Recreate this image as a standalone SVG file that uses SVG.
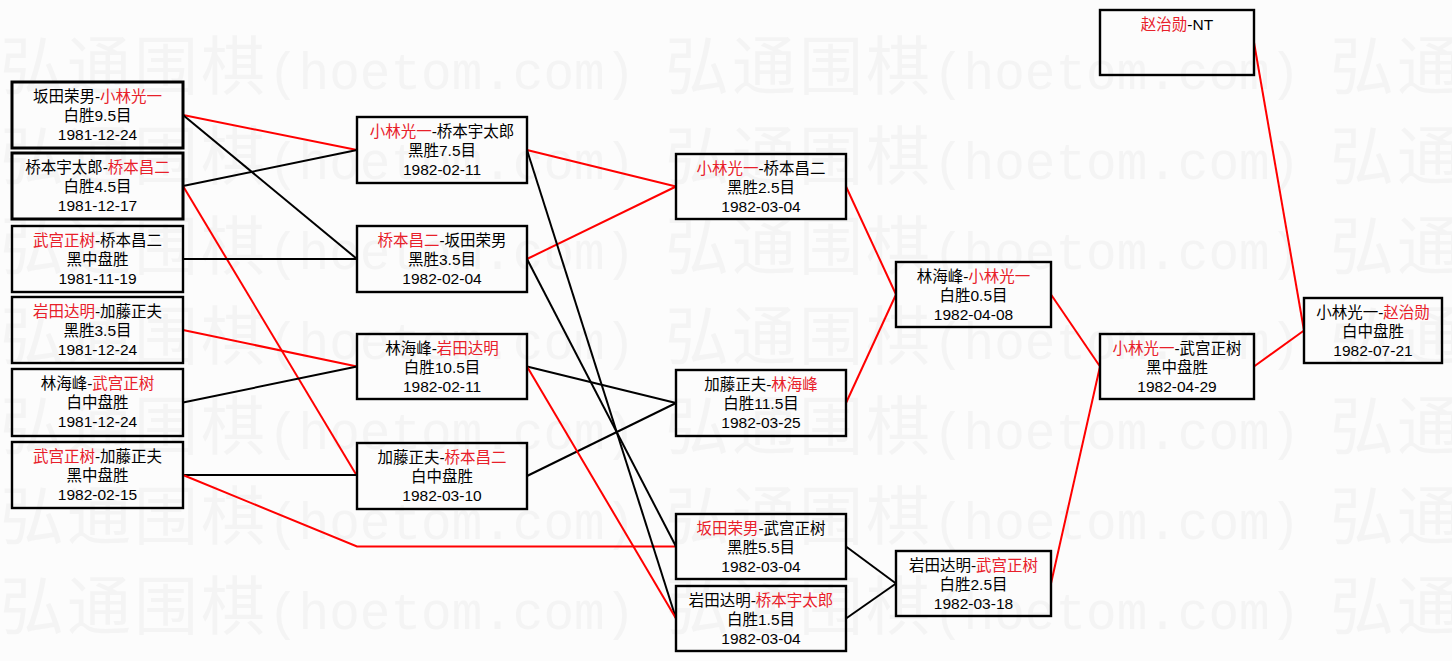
<svg xmlns="http://www.w3.org/2000/svg" xmlns:xlink="http://www.w3.org/1999/xlink" width="1452" height="661" viewBox="0 0 1452 661">
<style>
.bg{fill:#fcfcfc}
.wm{fill:#f4f4f4;font-family:"Noto Sans CJK SC","Noto Sans CJK JP",sans-serif;font-size:64px;letter-spacing:3px}
.wma{font-family:"Liberation Mono",monospace;font-size:51px;letter-spacing:0}
.box{fill:none;stroke:#000;stroke-width:2.4}
.thick{stroke-width:3}
.t{font-family:"Liberation Sans","Noto Sans CJK SC","Noto Sans CJK JP",sans-serif;font-size:15.5px;fill:#000;text-anchor:middle}
.r{fill:#e8202a}
.cr{stroke:#f00;stroke-width:2;fill:none}
.cb{stroke:#000;stroke-width:2;fill:none}
</style>
<defs>
<text id="wm" class="wm"><tspan x="0" y="0">弘通围棋</tspan><tspan class="wma" x="268" y="0">(hoetom.com)</tspan></text>
</defs>
<rect class="bg" x="0" y="0" width="1452" height="661"/>
<g id="watermark">
<use xlink:href="#wm" x="0" y="89"/><use xlink:href="#wm" x="665" y="89"/><use xlink:href="#wm" x="1330" y="89"/>
<use xlink:href="#wm" x="0" y="179"/><use xlink:href="#wm" x="665" y="179"/><use xlink:href="#wm" x="1330" y="179"/>
<use xlink:href="#wm" x="0" y="269"/><use xlink:href="#wm" x="665" y="269"/><use xlink:href="#wm" x="1330" y="269"/>
<use xlink:href="#wm" x="0" y="359"/><use xlink:href="#wm" x="665" y="359"/><use xlink:href="#wm" x="1330" y="359"/>
<use xlink:href="#wm" x="0" y="449"/><use xlink:href="#wm" x="665" y="449"/><use xlink:href="#wm" x="1330" y="449"/>
<use xlink:href="#wm" x="0" y="539"/><use xlink:href="#wm" x="665" y="539"/><use xlink:href="#wm" x="1330" y="539"/>
<use xlink:href="#wm" x="0" y="629"/><use xlink:href="#wm" x="665" y="629"/><use xlink:href="#wm" x="1330" y="629"/>
</g>
<g id="connectors">
<line class="cr" x1="183" y1="115" x2="357" y2="150"/>
<line class="cb" x1="183" y1="115" x2="357" y2="259"/>
<line class="cb" x1="183" y1="186" x2="357" y2="150"/>
<line class="cr" x1="183" y1="186" x2="357" y2="476"/>
<line class="cb" x1="183" y1="259" x2="357" y2="259"/>
<line class="cr" x1="183" y1="330" x2="357" y2="366.5"/>
<line class="cb" x1="183" y1="402.5" x2="357" y2="366.5"/>
<line class="cb" x1="183" y1="475" x2="357" y2="475"/>
<polyline class="cr" points="183,475 357,546.5 676,546.5"/>
<line class="cr" x1="527" y1="150" x2="676" y2="186.5"/>
<line class="cr" x1="527" y1="259" x2="676" y2="186.5"/>
<line class="cb" x1="527" y1="150" x2="676" y2="618.5"/>
<line class="cb" x1="527" y1="259" x2="676" y2="546.5"/>
<line class="cb" x1="527" y1="366.5" x2="676" y2="403"/>
<line class="cb" x1="527" y1="476" x2="676" y2="403"/>
<line class="cr" x1="527" y1="366.5" x2="676" y2="618.5"/>
<line class="cr" x1="846" y1="186.5" x2="896" y2="294.5"/>
<line class="cr" x1="846" y1="403" x2="896" y2="294.5"/>
<line class="cb" x1="846" y1="546.5" x2="896" y2="583.5"/>
<line class="cb" x1="846" y1="618.5" x2="896" y2="583.5"/>
<line class="cr" x1="1051" y1="294.5" x2="1100" y2="366.5"/>
<line class="cr" x1="1051" y1="583.5" x2="1100" y2="366.5"/>
<line class="cr" x1="1254" y1="366.5" x2="1304" y2="330.5"/>
<line class="cr" x1="1254" y1="42.5" x2="1304" y2="330.5"/>
</g>
<g id="n1"><rect class="box thick" x="12" y="82" width="171" height="66"/>
<text class="t" x="97.5" y="102">坂田荣男-<tspan class="r">小林光一</tspan></text>
<text class="t" x="97.5" y="121">白胜9.5目</text><text class="t" x="97.5" y="140">1981-12-24</text></g>
<g id="n2"><rect class="box thick" x="12" y="153" width="171" height="66"/>
<text class="t" x="97.5" y="173">桥本宇太郎-<tspan class="r">桥本昌二</tspan></text>
<text class="t" x="97.5" y="192">白胜4.5目</text><text class="t" x="97.5" y="211">1981-12-17</text></g>
<g id="n3"><rect class="box" x="12" y="226" width="171" height="66"/>
<text class="t" x="97.5" y="246"><tspan class="r">武宫正树</tspan>-桥本昌二</text>
<text class="t" x="97.5" y="265">黑中盘胜</text><text class="t" x="97.5" y="284">1981-11-19</text></g>
<g id="n4"><rect class="box" x="12" y="297" width="171" height="66"/>
<text class="t" x="97.5" y="317"><tspan class="r">岩田达明</tspan>-加藤正夫</text>
<text class="t" x="97.5" y="336">黑胜3.5目</text><text class="t" x="97.5" y="355">1981-12-24</text></g>
<g id="n5"><rect class="box" x="12" y="369" width="171" height="67"/>
<text class="t" x="97.5" y="389">林海峰-<tspan class="r">武宫正树</tspan></text>
<text class="t" x="97.5" y="408">白中盘胜</text><text class="t" x="97.5" y="427">1981-12-24</text></g>
<g id="n6"><rect class="box" x="12" y="442" width="171" height="66"/>
<text class="t" x="97.5" y="462"><tspan class="r">武宫正树</tspan>-加藤正夫</text>
<text class="t" x="97.5" y="481">黑中盘胜</text><text class="t" x="97.5" y="500">1982-02-15</text></g>
<g id="nA"><rect class="box" x="357" y="117" width="170" height="66"/>
<text class="t" x="442" y="137"><tspan class="r">小林光一</tspan>-桥本宇太郎</text>
<text class="t" x="442" y="156">黑胜7.5目</text><text class="t" x="442" y="175">1982-02-11</text></g>
<g id="nB"><rect class="box" x="357" y="226" width="170" height="66"/>
<text class="t" x="442" y="246"><tspan class="r">桥本昌二</tspan>-坂田荣男</text>
<text class="t" x="442" y="265">黑胜3.5目</text><text class="t" x="442" y="284">1982-02-04</text></g>
<g id="nC"><rect class="box" x="357" y="334" width="170" height="65"/>
<text class="t" x="442" y="354">林海峰-<tspan class="r">岩田达明</tspan></text>
<text class="t" x="442" y="373">白胜10.5目</text><text class="t" x="442" y="392">1982-02-11</text></g>
<g id="nD"><rect class="box" x="357" y="443" width="170" height="66"/>
<text class="t" x="442" y="463">加藤正夫-<tspan class="r">桥本昌二</tspan></text>
<text class="t" x="442" y="482">白中盘胜</text><text class="t" x="442" y="501">1982-03-10</text></g>
<g id="nE"><rect class="box" x="676" y="154" width="170" height="65"/>
<text class="t" x="761" y="174"><tspan class="r">小林光一</tspan>-桥本昌二</text>
<text class="t" x="761" y="193">黑胜2.5目</text><text class="t" x="761" y="212">1982-03-04</text></g>
<g id="nF"><rect class="box" x="676" y="370" width="170" height="66"/>
<text class="t" x="761" y="390">加藤正夫-<tspan class="r">林海峰</tspan></text>
<text class="t" x="761" y="409">白胜11.5目</text><text class="t" x="761" y="428">1982-03-25</text></g>
<g id="nG"><rect class="box" x="676" y="514" width="170" height="65"/>
<text class="t" x="761" y="534"><tspan class="r">坂田荣男</tspan>-武宫正树</text>
<text class="t" x="761" y="553">黑胜5.5目</text><text class="t" x="761" y="572">1982-03-04</text></g>
<g id="nH"><rect class="box" x="676" y="586" width="170" height="65"/>
<text class="t" x="761" y="606">岩田达明-<tspan class="r">桥本宇太郎</tspan></text>
<text class="t" x="761" y="625">白胜1.5目</text><text class="t" x="761" y="644">1982-03-04</text></g>
<g id="nI"><rect class="box" x="896" y="262" width="155" height="65"/>
<text class="t" x="973.5" y="282">林海峰-<tspan class="r">小林光一</tspan></text>
<text class="t" x="973.5" y="301">白胜0.5目</text><text class="t" x="973.5" y="320">1982-04-08</text></g>
<g id="nJ"><rect class="box" x="896" y="551" width="155" height="65"/>
<text class="t" x="973.5" y="571">岩田达明-<tspan class="r">武宫正树</tspan></text>
<text class="t" x="973.5" y="590">白胜2.5目</text><text class="t" x="973.5" y="609">1982-03-18</text></g>
<g id="nK"><rect class="box" x="1100" y="334" width="154" height="65"/>
<text class="t" x="1177" y="354"><tspan class="r">小林光一</tspan>-武宫正树</text>
<text class="t" x="1177" y="373">黑中盘胜</text><text class="t" x="1177" y="392">1982-04-29</text></g>
<g id="nNT"><rect class="box" x="1100" y="10" width="154" height="65"/>
<text class="t" x="1177" y="30"><tspan class="r">赵治勋</tspan>-NT</text></g>
<g id="nFinal"><rect class="box" x="1304" y="298" width="138" height="65"/>
<text class="t" x="1373" y="318">小林光一-<tspan class="r">赵治勋</tspan></text>
<text class="t" x="1373" y="337">白中盘胜</text><text class="t" x="1373" y="356">1982-07-21</text></g>
</svg>
